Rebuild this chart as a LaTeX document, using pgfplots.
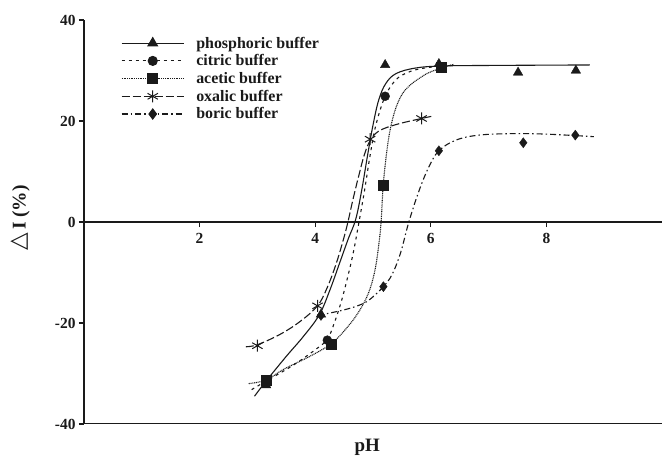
\documentclass[border=0pt]{standalone}
\usepackage{fontspec}
\setmainfont{Liberation Serif}
\newfontfamily\symfont{DejaVu Sans}
\usepackage{pgfplots}
\pgfplotsset{compat=1.18}
\definecolor{ink}{HTML}{1A1A1A}
\begin{document}
\begin{tikzpicture}
\begin{axis}[
  scale only axis, width=578bp, height=404bp,
  xmin=0, xmax=10, ymin=-40, ymax=40,
  axis x line=middle, axis y line=left,
  axis line style={-, line width=1.3pt, ink},
  xtick={2,4,6,8}, ytick={-40,-20,0,20,40},
  xtick align=outside, ytick align=outside,
  major tick length=5bp,
  tick style={line width=1.1pt, ink},
  /pgf/number format/assume math mode=true,
  tick label style={font=\fontsize{15.5}{17}\selectfont\bfseries, text=ink},
  x tick label style={yshift=-3bp},
  xlabel={pH},
  x label style={at={(axis description cs:0.49,-0.057)}, anchor=center, font=\fontsize{19}{21}\selectfont\bfseries, text=ink},
  ylabel={{\symfont\fontsize{23}{23}\selectfont △}\,I (\%)},
  y label style={at={(axis description cs:-0.11,0.51)}, anchor=center, font=\fontsize{19.5}{21}\selectfont\bfseries, text=ink},
  legend style={draw=none, fill=none, at={(axis cs:0.64,37.1)}, anchor=north west,
    font=\fontsize{16}{17}\selectfont\bfseries, text=ink, row sep=1bp, inner sep=0pt,
    cells={anchor=west}},
  legend image code/.code={\draw[mark repeat=2,mark phase=2,#1] plot coordinates {(0bp,0bp) (31bp,0bp) (62bp,0bp)};\path (72bp,0bp);},
]
\draw[line width=1.3pt, ink] (rel axis cs:0,0) -- (rel axis cs:1,0);

\addlegendimage{ink, solid, line width=1.1pt, mark=triangle*, mark size=5.5bp, mark options={solid}}
\addlegendentry{phosphoric buffer}
\addlegendimage{ink, line width=1.1pt, dash pattern=on 3pt off 4pt, mark=*, mark size=4.5bp, mark options={solid}}
\addlegendentry{citric buffer}
\addlegendimage{ink, line width=1.1pt, dash pattern=on 1pt off 0.8pt, mark=square*, mark size=5bp, mark options={solid}}
\addlegendentry{acetic buffer}
\addlegendimage{ink, line width=1.1pt, dash pattern=on 8pt off 3pt, mark=asterisk, mark size=6bp, mark options={solid, line width=1pt}}
\addlegendentry{oxalic buffer}
\addlegendimage{ink, line width=1.1pt, dash pattern=on 6pt off 3pt on 1.5pt off 3pt, mark=diamond*, mark size=5bp, mark options={solid}}
\addlegendentry{boric buffer}

% phosphoric fitted curve
\addplot[ink, solid, line width=1.1pt, smooth, tension=0.6, forget plot] coordinates {
(2.95,-34.5)(3.15,-31.5)(3.5,-26.6)(3.8,-22.6)(4.07,-18.4)(4.25,-13.6)(4.42,-8.2)(4.57,-3.4)(4.7,0.5)(4.8,6)(4.9,12.8)(5.0,19.2)(5.1,24.2)(5.22,27.4)(5.4,29.4)(5.74,30.5)(6.2,30.9)(7.0,31.0)(8.75,31.1)};
% citric fitted curve
\addplot[ink, line width=1.1pt, dash pattern=on 3pt off 4pt, smooth, tension=0.6, forget plot] coordinates {
(2.9,-33.2)(3.15,-31.5)(3.6,-28.5)(4.0,-25.3)(4.21,-23.2)(4.33,-20)(4.45,-15.8)(4.56,-11)(4.66,-6)(4.75,-0.5)(4.85,6)(4.95,13.2)(5.05,19.2)(5.21,24.9)(5.4,28.2)(5.6,29.6)(5.8,30.3)(6.1,30.8)(6.35,31)};
% acetic fitted curve
\addplot[ink, line width=1.1pt, dash pattern=on 1pt off 0.8pt, smooth, tension=0.6, forget plot] coordinates {
(2.85,-32)(3.15,-31.3)(3.45,-29.2)(3.84,-27)(4.1,-25.4)(4.27,-24.2)(4.42,-22.6)(4.65,-19.5)(4.82,-16.5)(4.95,-13.2)(5.04,-9.2)(5.1,-4.5)(5.14,0)(5.19,9)(5.31,19)(5.51,25.4)(5.86,28.9)(6.18,30.5)(6.4,31.2)};
% oxalic fitted curve
\addplot[ink, line width=1.1pt, dash pattern=on 8pt off 3pt, smooth, tension=0.6, forget plot] coordinates {
(2.8,-24.7)(3.0,-24.3)(3.4,-22.2)(3.75,-19.6)(4.04,-16.6)(4.2,-13.2)(4.35,-8.7)(4.47,-4.2)(4.56,-0.3)(4.65,4.3)(4.75,9)(4.85,13.3)(4.95,16.1)(5.1,18)(5.4,19.3)(5.84,20.5)(6.05,21)};
% boric fitted curve
\addplot[ink, line width=1.1pt, dash pattern=on 6pt off 3pt on 1.5pt off 3pt, smooth, tension=0.6, forget plot] coordinates {
(4.05,-18.5)(4.5,-17.4)(4.8,-16.3)(4.97,-15.1)(5.18,-12.8)(5.33,-10.4)(5.48,-6)(5.62,0)(5.8,6.3)(5.97,11)(6.14,14.1)(6.43,16.2)(6.83,17.2)(7.41,17.5)(8.0,17.4)(8.82,16.9)};

% measured points
\addplot[ink, only marks, mark=triangle*, mark size=5.5bp, forget plot] coordinates {
(3.15,-32.3)(4.1,-18.3)(5.21,31.1)(6.14,31.3)(7.51,29.6)(8.51,30.0)};
\addplot[ink, only marks, mark=*, mark size=4.5bp, forget plot] coordinates {
(3.15,-31.3)(4.21,-23.4)(5.21,24.9)(6.18,30.6)};
\addplot[ink, only marks, mark=square*, mark size=5bp, forget plot] coordinates {
(3.15,-31.3)(4.27,-24.2)(5.18,7.3)(6.18,30.6)};
\addplot[ink, only marks, mark=asterisk, mark size=6bp, mark options={line width=1pt}, forget plot] coordinates {
(3.0,-24.5)(4.04,-16.6)(4.95,16.4)(5.84,20.5)};
\addplot[ink, only marks, mark=diamond*, mark size=5bp, forget plot] coordinates {
(4.1,-18.5)(5.18,-12.8)(6.14,14.1)(7.6,15.7)(8.5,17.2)};
\end{axis}
\pgfresetboundingbox
\path (-84bp,-34bp) rectangle (578bp,424bp);
\end{tikzpicture}
\end{document}
